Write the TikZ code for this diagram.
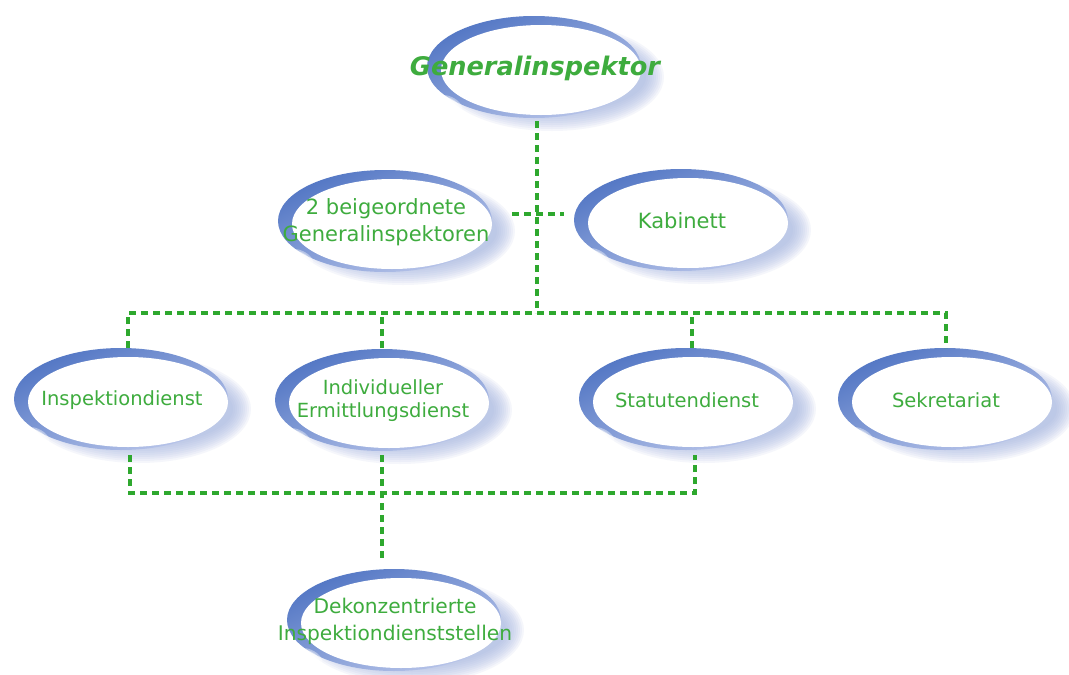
\documentclass[tikz,border=0pt]{standalone}
\usepackage{fontspec}
\setmainfont{DejaVu Sans}
\usetikzlibrary{calc,backgrounds}
\definecolor{swdark}{RGB}{82,118,196}
\definecolor{swlight}{RGB}{186,198,234}
\definecolor{glowc}{RGB}{164,180,224}
\definecolor{linegreen}{RGB}{46,168,46}
\definecolor{txtgreen}{RGB}{62,172,62}
\newcommand\myswoosh[1]{%
  \begin{scope}[shift={($(#1.center)+(6,2)$)}]
    \foreach \k in {0,...,9}{%
      \fill[glowc,opacity=0.11] (11,7) ellipse [x radius={94+2*\k}, y radius={36+2*\k}];}
    \shade[top color=swdark,bottom color=swlight,shading angle=25] (-7,-3) ellipse [x radius=107,y radius=51];
    \fill[white] (0,0) ellipse [x radius=100,y radius=45];
    \foreach \k in {0,...,3}{%
      \fill[white,opacity=0.4,rotate around={-25:(-92,34)}] (-92,34) ellipse [x radius={5+3*\k}, y radius={3+1.5*\k}];}
  \end{scope}}
\begin{document}
\begin{tikzpicture}[x=1pt,y=-1pt,
  lbl/.style={inner sep=0pt,text=txtgreen,align=center},
  lblsmall/.style={lbl,font=\fontsize{19.5}{23}\selectfont},
  lblbig/.style={lbl,font=\fontsize{21}{27}\selectfont},
  lbltitle/.style={lbl,font=\fontsize{25.6}{30}\selectfont\bfseries\itshape},
  conn/.style={draw=linegreen,line width=3.2pt,dash pattern=on 7pt off 5pt}]
\useasboundingbox (0,0) rectangle (1069,675);
% nodes
\node[lbltitle] (gi) at (535,68) {Generalinspektor};
\node[lblbig] (beig) at (386,222) {2 beigeordnete\\Generalinspektoren};
\node[lblbig] (kab) at (682,221) {Kabinett};
\node[lblsmall] (insp) at (122,400) {Inspektiondienst};
\node[lblsmall] (ind) at (383,401) {Individueller\\Ermittlungsdienst};
\node[lblsmall] (stat) at (687,400) {Statutendienst};
\node[lblsmall] (sek) at (946,400) {Sekretariat};
\node[lblbig,font=\fontsize{20.2}{27}\selectfont] (dek) at (395,621) {Dekonzentrierte\\Inspektiondienststellen};
% swooshes
\begin{pgfonlayer}{background}
  \fill[white] (0,0) rectangle (1069,675);
  \foreach \n in {gi,beig,kab,insp,ind,stat,sek,dek}{\myswoosh{\n}}
\end{pgfonlayer}
% connector ends
\coordinate (giS) at (537,121);
\coordinate (hub) at (537,313);
\coordinate (beigE) at (512,214);
\coordinate (kabW) at (564,214);
\coordinate (inspN) at (128,348);
\coordinate (indN) at (382,348);
\coordinate (statN) at (692,348);
\coordinate (sekN) at (946,348);
\coordinate (inspS) at (130,455);
\coordinate (indS) at (382,455);
\coordinate (statS) at (695,455);
\coordinate (bot) at (382,493);
\coordinate (dekN) at (382,562);
% connectors
\draw[conn] (giS) -- (hub);
\draw[conn] (beigE) -- (kabW);
\draw[conn] (inspN) |- (hub) -| (sekN);
\draw[conn] (indN) -- (indN |- hub);
\draw[conn] (statN) -- (statN |- hub);
\draw[conn] (inspS) |- (bot) -| (statS);
\draw[conn] (indS) -- (dekN);
\end{tikzpicture}
\end{document}
